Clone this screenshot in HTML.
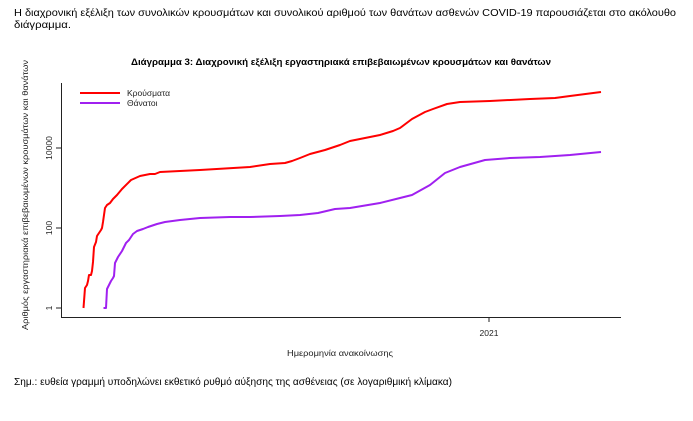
<!DOCTYPE html>
<html><head><meta charset="utf-8"><style>
body{margin:0;width:693px;height:421px;background:#fff;font-family:"Liberation Sans","DejaVu Sans",sans-serif;color:#000;overflow:hidden}
svg{position:absolute;left:0;top:0}
</style></head><body>
<svg width="693" height="421" xmlns="http://www.w3.org/2000/svg" font-family="Liberation Sans, DejaVu Sans, sans-serif">
<text x="14" y="16" font-size="10" textLength="662" lengthAdjust="spacingAndGlyphs">Η διαχρονική εξέλιξη των συνολικών κρουσμάτων και συνολικού αριθμού των θανάτων ασθενών COVID-19 παρουσιάζεται στο ακόλουθο</text>
<text x="14" y="28" font-size="10" textLength="57" lengthAdjust="spacingAndGlyphs">διάγραμμα.</text>
<text x="131" y="65" font-size="9.5" font-weight="bold" textLength="420" lengthAdjust="spacingAndGlyphs">Διάγραμμα 3: Διαχρονική εξέλιξη εργαστηριακά επιβεβαιωμένων κρουσμάτων και θανάτων</text>
<g stroke="#222" stroke-width="1" fill="none">
<path d="M61.5 83V317.5H621"/>
<path d="M56 308H61M56 228H61M56 148H61M489 317V322"/>
</g>
<g font-size="8.5" fill="#222">
<text transform="translate(52,308) rotate(-90)" text-anchor="middle">1</text>
<text transform="translate(52,228) rotate(-90)" text-anchor="middle">100</text>
<text transform="translate(52,148) rotate(-90)" text-anchor="middle">10000</text>
<text x="489" y="336" text-anchor="middle">2021</text>
<text transform="translate(28,330) rotate(-90)" textLength="270" lengthAdjust="spacingAndGlyphs">Αριθμός εργαστηριακά επιβεβαιωμένων κρουσμάτων και θανάτων</text>
<text x="287" y="356" textLength="106" lengthAdjust="spacingAndGlyphs">Ημερομηνία ανακοίνωσης</text>
<text x="127" y="96">Κρούσματα</text>
<text x="127" y="106">Θάνατοι</text>
</g>
<line x1="80" y1="93" x2="120" y2="93" stroke="#f00" stroke-width="2"/>
<line x1="80" y1="103" x2="120" y2="103" stroke="#a020f0" stroke-width="2"/>
<polyline fill="none" stroke="#f00" stroke-width="2" stroke-linejoin="round" points="83.5,308 85,288 87,285 88,281 89,275 91,275 92,271 93,262 94,247 96,242 97,236 99,233 101,230 102,228 103,222 105,208 107,205 110,203 113,199 117,195 122,189 131,180 140,176 150,174 155,174 160,172 180,171 200,170 250,167 270,164 285,163 292,161 300,158 310,154 325,150 340,145 350,141 380,135 393,131 400,128 412,119 425,112 433,109 447,104 460,102 490,101 530,99 555,98 570,96 601,92"/>
<polyline fill="none" stroke="#a020f0" stroke-width="2" stroke-linejoin="round" points="103.5,308 106,308 107,289 109,285 111,281 113,278 114,276 115,263 118,257 122,251 126,243 129,240 133,234 137,231 143,229 148,227 157,224 165,222 180,220 200,218 230,217 250,217 280,216 300,215 318,213 335,209 350,208 380,203 400,198 412,195 430,185 445,173 460,167 485,160 510,158 540,157 570,155 601,152"/>
<text x="14" y="385" font-size="10" textLength="438" lengthAdjust="spacingAndGlyphs">Σημ.: ευθεία γραμμή υποδηλώνει εκθετικό ρυθμό αύξησης της ασθένειας (σε λογαριθμική κλίμακα)</text>
</svg>
</body></html>
